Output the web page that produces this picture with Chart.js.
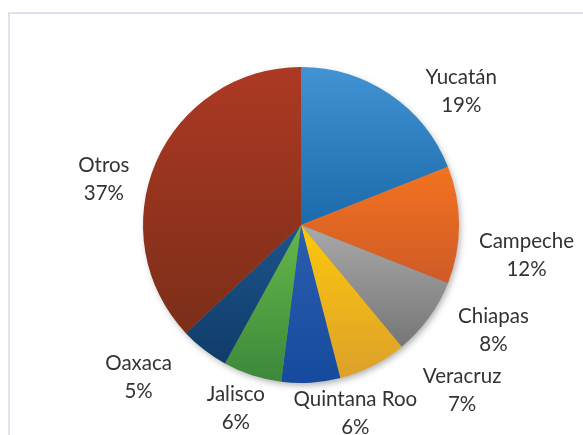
<!DOCTYPE html>
<html lang="es">
<head>
  <meta charset="UTF-8" />
  <title>Distribución por estado</title>
  <script src="https://cdn.jsdelivr.net/npm/chart.js"></script>
  <style>
    body {
      margin: 0;
      background: #ffffff;
      overflow: hidden;
    }
    #marco {
      position: absolute;
      left: 8px;
      top: 12px;
      width: 640px;
      height: 480px;
      border: 2px solid #dde4ee;
    }
    #contenedor {
      position: absolute;
      left: 0;
      top: 0;
      width: 583px;
      height: 435px;
    }
  </style>
</head>
<body>
  <div id="marco"></div>
  <div id="contenedor">
    <canvas id="grafica"></canvas>
  </div>

  <script>
    const categorias = ['Yucatán', 'Campeche', 'Chiapas', 'Veracruz', 'Quintana Roo', 'Jalisco', 'Oaxaca', 'Otros'];
    const porcentajes = [19, 12, 8, 7, 6, 6, 5, 37];

    // tono claro (arriba) y oscuro (abajo) de cada rebanada
    const coloresClaros = ['#4293d3', '#f2731f', '#a9a9a9', '#fdc80c', '#2c5eae', '#65b849', '#1d548b', '#ad3923'];
    const coloresOscuros = ['#1b6aac', '#cf5a27', '#767676', '#dda02b', '#154a9e', '#3d883b', '#103c69', '#7b2e19'];

    // ajuste de las etiquetas: giro (grados) y distancia relativa al radio
    const giroEtiquetas = [16, 7.6, -7.2, -17.3, -12.5, 1.6, 9, -10.5];
    const distEtiquetas = [1.32, 1.44, 1.39, 1.46, 1.24, 1.23, 1.41, 1.28];

    function degradado(context) {
      const chart = context.chart;
      const area = chart.chartArea;
      const i = context.dataIndex;
      if (!area) return coloresClaros[i];
      const cx = (area.left + area.right) / 2;
      const cy = (area.top + area.bottom) / 2;
      const r = Math.min(area.right - area.left, area.bottom - area.top) / 2;
      const total = porcentajes.reduce((a, b) => a + b, 0);
      let acum = 0;
      for (let k = 0; k < i; k++) acum += porcentajes[k];
      const a0 = -Math.PI / 2 + acum / total * Math.PI * 2;
      const a1 = a0 + porcentajes[i] / total * Math.PI * 2;
      let yMin = cy, yMax = cy;
      const ys = [cy + Math.sin(a0) * r, cy + Math.sin(a1) * r];
      [-Math.PI / 2, Math.PI / 2, Math.PI * 1.5].forEach(a => {
        if (a >= a0 && a <= a1) ys.push(cy + Math.sin(a) * r);
      });
      ys.forEach(y => { yMin = Math.min(yMin, y); yMax = Math.max(yMax, y); });
      const g = chart.ctx.createLinearGradient(0, yMin, 0, yMax);
      g.addColorStop(0, coloresClaros[i]);
      g.addColorStop(1, coloresOscuros[i]);
      return g;
    }

    // sombra suave debajo del pastel
    const sombra = {
      id: 'sombra',
      beforeDatasetsDraw(chart) {
        const arco = chart.getDatasetMeta(0).data[0];
        if (!arco) return;
        const { x, y, outerRadius } = arco.getProps(['x', 'y', 'outerRadius'], true);
        const ctx = chart.ctx;
        ctx.save();
        ctx.shadowColor = 'rgba(0, 0, 0, 0.35)';
        ctx.shadowBlur = 7;
        ctx.shadowOffsetX = 2;
        ctx.shadowOffsetY = 3;
        ctx.fillStyle = '#888';
        ctx.beginPath();
        ctx.arc(x, y, outerRadius - 1, 0, Math.PI * 2);
        ctx.fill();
        ctx.restore();
      }
    };

    // etiquetas de nombre y porcentaje por fuera
    const etiquetas = {
      id: 'etiquetas',
      afterDatasetsDraw(chart) {
        const ctx = chart.ctx;
        const meta = chart.getDatasetMeta(0);
        ctx.save();
        ctx.fillStyle = '#333333';
        ctx.font = '20.5px Lato, "Open Sans", sans-serif';
        ctx.textAlign = 'center';
        ctx.textBaseline = 'middle';
        meta.data.forEach((arco, i) => {
          const p = arco.getProps(['x', 'y', 'startAngle', 'endAngle', 'outerRadius'], true);
          const ang = (p.startAngle + p.endAngle) / 2 + giroEtiquetas[i] * Math.PI / 180;
          const d = p.outerRadius * distEtiquetas[i];
          const lx = p.x + Math.cos(ang) * d;
          const ly = p.y + Math.sin(ang) * d;
          ctx.fillText(categorias[i], lx, ly - 14);
          ctx.fillText(porcentajes[i] + '%', lx, ly + 14);
        });
        ctx.restore();
      }
    };

    const ctx = document.getElementById('grafica').getContext('2d');
    new Chart(ctx, {
      type: 'pie',
      data: {
        labels: categorias,
        datasets: [{
          data: porcentajes,
          backgroundColor: degradado,
          borderWidth: 0
        }]
      },
      options: {
        responsive: true,
        maintainAspectRatio: false,
        animation: false,
        layout: {
          padding: { left: 143, right: 124, top: 67, bottom: 52 }
        },
        plugins: {
          legend: { display: false },
          tooltip: { enabled: false }
        }
      },
      plugins: [sombra, etiquetas]
    });
  </script>
</body>
</html>
